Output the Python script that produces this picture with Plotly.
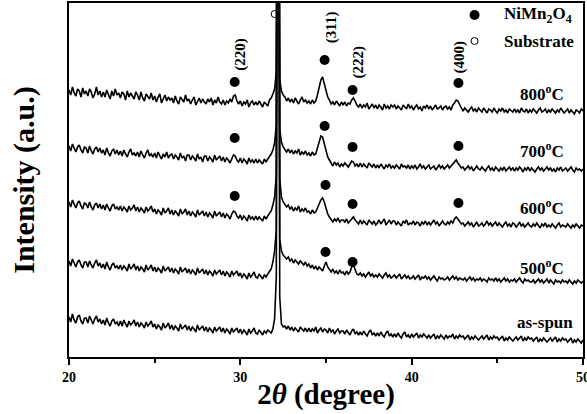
import plotly.graph_objects as go

# 2-theta sampling (degree)
two_theta = [
    20.0, 20.1, 20.2, 20.3, 20.4, 20.5, 20.6, 20.7, 20.8, 20.9,
    21.0, 21.1, 21.2, 21.3, 21.4, 21.5, 21.6, 21.7, 21.8, 21.9,
    22.0, 22.1, 22.2, 22.3, 22.4, 22.5, 22.6, 22.7, 22.8, 22.9,
    23.0, 23.1, 23.2, 23.3, 23.4, 23.5, 23.6, 23.7, 23.8, 23.9,
    24.0, 24.1, 24.2, 24.3, 24.4, 24.5, 24.6, 24.7, 24.8, 24.9,
    25.0, 25.1, 25.2, 25.3, 25.4, 25.5, 25.6, 25.7, 25.8, 25.9,
    26.0, 26.1, 26.2, 26.3, 26.4, 26.5, 26.6, 26.7, 26.8, 26.9,
    27.0, 27.1, 27.2, 27.3, 27.4, 27.5, 27.6, 27.7, 27.8, 27.9,
    28.0, 28.1, 28.2, 28.3, 28.4, 28.5, 28.6, 28.7, 28.8, 28.9,
    29.0, 29.1, 29.2, 29.3, 29.4, 29.5, 29.6, 29.7, 29.8, 29.9,
    30.0, 30.1, 30.2, 30.3, 30.4, 30.5, 30.6, 30.7, 30.8, 30.9,
    31.0, 31.1, 31.2, 31.3, 31.4, 31.5, 31.6, 31.7, 31.8, 31.9,
    32.0, 32.1, 32.2, 32.3, 32.4, 32.5, 32.6, 32.7, 32.8, 32.9,
    33.0, 33.1, 33.2, 33.3, 33.4, 33.5, 33.6, 33.7, 33.8, 33.9,
    34.0, 34.1, 34.2, 34.3, 34.4, 34.5, 34.6, 34.7, 34.8, 34.9,
    35.0, 35.1, 35.2, 35.3, 35.4, 35.5, 35.6, 35.7, 35.8, 35.9,
    36.0, 36.1, 36.2, 36.3, 36.4, 36.5, 36.6, 36.7, 36.8, 36.9,
    37.0, 37.1, 37.2, 37.3, 37.4, 37.5, 37.6, 37.7, 37.8, 37.9,
    38.0, 38.1, 38.2, 38.3, 38.4, 38.5, 38.6, 38.7, 38.8, 38.9,
    39.0, 39.1, 39.2, 39.3, 39.4, 39.5, 39.6, 39.7, 39.8, 39.9,
    40.0, 40.1, 40.2, 40.3, 40.4, 40.5, 40.6, 40.7, 40.8, 40.9,
    41.0, 41.1, 41.2, 41.3, 41.4, 41.5, 41.6, 41.7, 41.8, 41.9,
    42.0, 42.1, 42.2, 42.3, 42.4, 42.5, 42.6, 42.7, 42.8, 42.9,
    43.0, 43.1, 43.2, 43.3, 43.4, 43.5, 43.6, 43.7, 43.8, 43.9,
    44.0, 44.1, 44.2, 44.3, 44.4, 44.5, 44.6, 44.7, 44.8, 44.9,
    45.0, 45.1, 45.2, 45.3, 45.4, 45.5, 45.6, 45.7, 45.8, 45.9,
    46.0, 46.1, 46.2, 46.3, 46.4, 46.5, 46.6, 46.7, 46.8, 46.9,
    47.0, 47.1, 47.2, 47.3, 47.4, 47.5, 47.6, 47.7, 47.8, 47.9,
    48.0, 48.1, 48.2, 48.3, 48.4, 48.5, 48.6, 48.7, 48.8, 48.9,
    49.0, 49.1, 49.2, 49.3, 49.4, 49.5, 49.6, 49.7, 49.8, 49.9,
    50.0,
]

# Intensities (a.u., curves stacked with offsets as in the figure)
i_800 = [
    267, 262, 270, 264, 261, 268, 266, 260, 269, 263,
    266, 261, 268, 265, 259, 263, 270, 262, 266, 260,
    265, 260, 267, 263, 258, 266, 261, 268, 262, 264,
    259, 265, 263, 257, 266, 260, 264, 261, 258, 265,
    262, 257, 265, 259, 256, 263, 261, 258, 264, 257,
    261, 255, 260, 263, 254, 259, 262, 256, 260, 257,
    259, 254, 261, 256, 253, 260, 258, 255, 262, 256,
    258, 253, 257, 260, 252, 256, 259, 254, 258, 255,
    253, 258, 255, 259, 252, 257, 254, 260, 255, 253,
    257, 252, 256, 254, 258, 255, 261, 262, 256, 253,
    256, 251, 255, 253, 257, 250, 254, 256, 252, 255,
    252, 256, 253, 250, 255, 253, 251, 257, 259, 263,
    268, 285, 900, 278, 266, 262, 260, 256, 259, 255,
    258, 254, 259, 256, 253, 257, 260, 255, 257, 254,
    256, 253, 257, 254, 256, 262, 270, 277, 280, 274,
    266, 260, 257, 253, 255, 252, 256, 253, 251, 255,
    252, 255, 251, 254, 253, 257, 259, 256, 252, 250,
    253, 249, 252, 250, 254, 248, 251, 253, 249, 252,
    248, 252, 250, 247, 253, 249, 251, 248, 252, 250,
    252, 248, 251, 249, 247, 252, 250, 248, 253, 249,
    251, 247, 250, 252, 248, 250, 246, 251, 249, 252,
    248, 251, 247, 250, 252, 248, 249, 251, 247, 250,
    251, 248, 250, 247, 252, 254, 257, 256, 252, 249,
    246, 249, 247, 245, 248, 250, 246, 248, 245, 249,
    247, 245, 249, 246, 244, 248, 247, 245, 249, 246,
    244, 248, 246, 249, 245, 247, 244, 248, 246, 245,
    248, 245, 247, 244, 249, 246, 245, 248, 244, 247,
    245, 248, 246, 244, 247, 249, 245, 246, 248, 244,
    247, 245, 248, 246, 244, 247, 245, 249, 246, 244,
    246, 248, 244, 247, 245, 243, 247, 246, 244, 248,
    246,
]
i_700 = [
    211, 206, 213, 208, 205, 210, 212, 207, 204, 210,
    209, 204, 211, 206, 203, 208, 210, 205, 209, 204,
    207, 202, 209, 204, 201, 206, 208, 203, 207, 202,
    206, 201, 207, 203, 200, 205, 208, 202, 204, 201,
    205, 200, 206, 202, 199, 204, 207, 201, 203, 200,
    204, 199, 205, 201, 198, 203, 200, 205, 199, 202,
    203, 198, 202, 200, 197, 204, 199, 201, 196, 202,
    202, 197, 201, 199, 196, 203, 198, 200, 195, 201,
    201, 196, 200, 198, 195, 202, 197, 199, 201, 196,
    200, 195, 199, 197, 194, 198, 202, 201, 197, 195,
    199, 194, 198, 196, 193, 199, 195, 197, 194, 198,
    194, 197, 195, 193, 198, 195, 198, 200, 203, 207,
    214, 232, 900, 228, 215, 210, 208, 205, 208, 204,
    207, 203, 206, 204, 208, 202, 205, 203, 206, 202,
    204, 201, 205, 202, 203, 210, 216, 221, 220, 214,
    207, 200, 197, 194, 191, 195, 192, 194, 190, 193,
    191, 194, 192, 190, 193, 196, 195, 191, 193, 190,
    194, 190, 193, 191, 189, 194, 192, 190, 193, 189,
    192, 189, 193, 190, 188, 192, 190, 193, 189, 191,
    189, 192, 190, 188, 193, 190, 191, 189, 192, 188,
    191, 189, 192, 188, 190, 193, 189, 191, 188, 190,
    192, 188, 190, 191, 187, 190, 192, 189, 191, 188,
    190, 192, 189, 191, 193, 196, 197, 194, 191, 189,
    190, 187, 189, 191, 188, 190, 186, 189, 191, 188,
    187, 190, 188, 186, 189, 191, 187, 189, 186, 190,
    188, 186, 189, 187, 190, 186, 188, 190, 187, 189,
    186, 189, 187, 190, 188, 185, 189, 187, 190, 186,
    189, 187, 185, 188, 190, 187, 189, 186, 188, 190,
    187, 189, 186, 188, 185, 189, 187, 190, 186, 188,
    189, 186, 188, 190, 187, 185, 189, 187, 188, 186,
    188,
]
i_600 = [
    155, 150, 157, 152, 149, 154, 156, 151, 148, 154,
    153, 149, 155, 150, 147, 152, 154, 149, 153, 148,
    152, 147, 153, 149, 146, 151, 153, 148, 150, 147,
    151, 146, 150, 148, 145, 151, 147, 149, 152, 146,
    150, 145, 149, 147, 144, 150, 146, 148, 151, 145,
    148, 143, 147, 145, 142, 149, 144, 146, 149, 143,
    147, 142, 146, 144, 141, 148, 143, 145, 148, 142,
    146, 141, 145, 143, 140, 147, 142, 144, 146, 141,
    145, 140, 144, 142, 139, 146, 141, 143, 145, 140,
    144, 139, 143, 141, 138, 143, 146, 145, 141, 139,
    142, 137, 141, 139, 136, 142, 138, 140, 137, 141,
    137, 140, 138, 136, 141, 138, 141, 143, 146, 152,
    160, 182, 900, 178, 160, 155, 152, 150, 152, 148,
    150, 146, 149, 147, 151, 145, 148, 146, 149, 145,
    146, 143, 147, 144, 145, 149, 153, 157, 159, 155,
    149, 143, 140, 137, 135, 138, 136, 139, 135, 137,
    137, 135, 138, 134, 136, 139, 140, 137, 135, 133,
    137, 133, 136, 134, 132, 137, 135, 133, 136, 132,
    134, 137, 133, 135, 138, 132, 135, 137, 133, 136,
    136, 132, 135, 133, 131, 136, 134, 137, 132, 134,
    133, 136, 132, 135, 134, 131, 135, 133, 136, 132,
    135, 132, 134, 137, 133, 135, 131, 134, 136, 133,
    132, 135, 133, 136, 134, 138, 140, 138, 135, 133,
    134, 131, 133, 135, 132, 134, 130, 133, 135, 131,
    132, 134, 131, 133, 136, 132, 134, 131, 133, 135,
    131, 134, 132, 130, 133, 135, 131, 133, 130, 134,
    133, 130, 132, 135, 131, 133, 130, 132, 134, 131,
    130, 133, 131, 134, 132, 129, 133, 131, 134, 130,
    132, 130, 133, 131, 129, 132, 134, 130, 132, 131,
    130, 133, 131, 129, 132, 130, 133, 131, 129, 132,
    131,
]
i_500 = [
    96, 91, 98, 93, 90, 95, 97, 92, 89, 95,
    95, 90, 96, 92, 89, 94, 97, 91, 94, 89,
    93, 88, 95, 90, 87, 92, 94, 89, 91, 88,
    92, 87, 91, 89, 86, 93, 88, 90, 93, 87,
    91, 86, 90, 88, 85, 92, 87, 89, 92, 86,
    90, 85, 89, 87, 84, 91, 86, 88, 90, 85,
    89, 84, 88, 86, 83, 90, 85, 87, 89, 84,
    88, 83, 87, 85, 82, 89, 84, 86, 88, 83,
    87, 82, 86, 84, 81, 87, 83, 85, 87, 82,
    86, 81, 85, 83, 80, 86, 82, 84, 86, 81,
    84, 79, 83, 81, 78, 84, 80, 82, 85, 80,
    79, 83, 80, 78, 82, 80, 83, 85, 88, 95,
    106, 127, 900, 118, 106, 102, 100, 98, 100, 96,
    98, 94, 97, 95, 93, 96, 94, 92, 95, 91,
    93, 89, 92, 88, 91, 87, 90, 88, 86, 91,
    95, 90, 87, 85, 88, 84, 86, 83, 87, 84,
    85, 82, 86, 83, 85, 90, 92, 87, 83, 82,
    84, 81, 83, 80, 82, 85, 81, 83, 80, 82,
    80, 83, 81, 79, 82, 84, 80, 82, 79, 81,
    82, 79, 81, 83, 78, 80, 82, 79, 81, 78,
    79, 81, 78, 80, 82, 77, 80, 79, 81, 78,
    80, 77, 79, 81, 78, 76, 80, 78, 79, 77,
    78, 80, 77, 79, 81, 78, 80, 77, 79, 78,
    77, 79, 76, 78, 80, 77, 79, 76, 78, 77,
    79, 76, 78, 77, 75, 79, 77, 78, 76, 79,
    76, 78, 75, 77, 79, 76, 78, 75, 77, 76,
    78, 75, 77, 79, 76, 74, 78, 76, 77, 75,
    75, 77, 74, 76, 78, 75, 77, 74, 76, 78,
    74, 77, 75, 73, 77, 75, 76, 74, 77, 75,
    76, 74, 77, 75, 73, 76, 74, 77, 75, 74,
    76,
]
i_asspun = [
    40, 35, 43, 37, 34, 40, 42, 36, 33, 39,
    39, 34, 41, 36, 33, 38, 41, 35, 38, 33,
    37, 32, 39, 34, 31, 36, 38, 33, 35, 31,
    36, 31, 37, 33, 30, 36, 32, 34, 37, 31,
    35, 30, 34, 32, 29, 35, 31, 33, 36, 30,
    33, 28, 32, 30, 27, 34, 29, 31, 34, 28,
    32, 27, 31, 29, 26, 33, 28, 30, 32, 27,
    31, 26, 30, 28, 25, 32, 27, 29, 31, 26,
    30, 25, 29, 27, 24, 30, 26, 28, 30, 25,
    29, 24, 28, 26, 23, 29, 25, 27, 29, 24,
    28, 23, 27, 25, 22, 28, 24, 26, 29, 24,
    23, 27, 24, 22, 26, 24, 27, 25, 24, 28,
    38, 80, 900, 60, 33, 30, 31, 28, 31, 27,
    30, 26, 29, 27, 25, 30, 28, 26, 29, 25,
    29, 25, 28, 26, 30, 24, 27, 29, 25, 28,
    27, 24, 29, 25, 27, 23, 26, 28, 24, 26,
    26, 23, 27, 24, 22, 26, 28, 23, 25, 22,
    25, 22, 26, 23, 21, 25, 27, 22, 24, 21,
    24, 21, 25, 22, 20, 24, 26, 21, 23, 20,
    23, 20, 24, 21, 19, 23, 25, 20, 22, 19,
    23, 20, 22, 24, 19, 22, 20, 23, 21, 19,
    22, 19, 21, 23, 18, 21, 19, 22, 20, 18,
    22, 19, 21, 20, 23, 18, 21, 19, 22, 20,
    21, 18, 20, 22, 17, 20, 18, 21, 19, 17,
    19, 21, 18, 20, 22, 17, 20, 18, 21, 19,
    20, 17, 19, 21, 16, 19, 17, 20, 18, 16,
    18, 20, 17, 19, 21, 16, 19, 17, 20, 18,
    19, 16, 18, 20, 15, 18, 16, 19, 17, 15,
    17, 19, 16, 18, 20, 15, 18, 16, 19, 17,
    18, 15, 17, 19, 14, 17, 15, 18, 16, 14,
    17,
]

curve_names = ["800°C", "700°C", "600°C", "500°C", "as-spun"]
curve_labels = ["800<sup>o</sup>C", "700<sup>o</sup>C", "600<sup>o</sup>C", "500<sup>o</sup>C", "as-spun"]
curve_label_x = [47.63, 47.63, 47.63, 47.63, 47.81]
curve_label_y = [264, 207, 150, 90, 35]

# NiMn2O4 peak markers
spinel_x = [29.67, 34.92, 36.55, 42.73,
            29.67, 34.92, 36.55, 42.73,
            29.67, 34.97, 36.55, 42.73,
            34.97, 36.55]
spinel_y = [275, 297, 267, 274,
            219, 231, 210, 211,
            161, 172, 153, 154,
            105, 95]
# Substrate marker
substrate_x = [32.0]
substrate_y = [343]

# hkl labels
hkl_labels = ["(220)", "(311)", "(222)", "(400)"]
hkl_x = [29.97, 35.3, 36.84, 42.79]
hkl_y = [303, 330, 295, 300]

FONT = "Liberation Serif, Times New Roman, serif"

fig = go.Figure()
for ys, nm in zip([i_800, i_700, i_600, i_500, i_asspun], curve_names):
    fig.add_trace(go.Scatter(x=two_theta, y=ys, mode="lines", name=nm,
                             line=dict(color="black", width=1.6),
                             showlegend=False, hoverinfo="skip"))

fig.add_trace(go.Scatter(x=spinel_x, y=spinel_y, mode="markers", name="NiMn2O4",
                         marker=dict(symbol="circle", size=10, color="black"),
                         showlegend=False))
fig.add_trace(go.Scatter(x=substrate_x, y=substrate_y, mode="markers", name="Substrate",
                         marker=dict(symbol="circle-open", size=7, color="black",
                                     line=dict(width=1)),
                         showlegend=False))

# legend markers
fig.add_trace(go.Scatter(x=[43.67], y=[342], mode="markers", showlegend=False,
                         marker=dict(symbol="circle", size=10, color="black")))
fig.add_trace(go.Scatter(x=[43.67], y=[316], mode="markers", showlegend=False,
                         marker=dict(symbol="circle-open", size=7, color="black",
                                     line=dict(width=1))))

annotations = []
annotations.append(dict(x=45.3, y=342, xref="x", yref="y", xanchor="left", yanchor="middle",
                        text="NiMn<sub>2</sub>O<sub>4</sub>", showarrow=False,
                        font=dict(family=FONT, size=17, color="black", weight="bold")))
annotations.append(dict(x=45.3, y=316, xref="x", yref="y", xanchor="left", yanchor="middle",
                        text="Substrate", showarrow=False,
                        font=dict(family=FONT, size=17, color="black", weight="bold")))
for t, xx, yy in zip(curve_labels, curve_label_x, curve_label_y):
    annotations.append(dict(x=xx, y=yy, xref="x", yref="y", xanchor="center", yanchor="middle",
                            text=t, showarrow=False,
                            font=dict(family=FONT, size=17, color="black", weight="bold")))
for t, xx, yy in zip(hkl_labels, hkl_x, hkl_y):
    annotations.append(dict(x=xx, y=yy, xref="x", yref="y", xanchor="center", yanchor="middle",
                            text=t, showarrow=False, textangle=-90,
                            font=dict(family=FONT, size=15, color="black", weight="bold")))

fig.update_layout(
    width=587, height=414,
    margin=dict(l=69, r=4, t=3, b=57, autoexpand=False),
    paper_bgcolor="white", plot_bgcolor="white",
    annotations=annotations,
    showlegend=False,
)
fig.update_xaxes(
    range=[20, 50], tickvals=[20, 30, 40, 50], ticks="outside", ticklen=6, tickwidth=1.5,
    tickcolor="black", showline=True, mirror=True, linecolor="black", linewidth=1.5,
    showgrid=False, zeroline=False, ticklabeloverflow="allow", automargin=False,
    minor=dict(tickvals=[25, 35, 45], ticks="outside", ticklen=4, tickwidth=1.5, tickcolor="black"),
    tickfont=dict(family=FONT, size=14, color="black", weight="bold"),
    title=dict(text="2<i>θ</i> (degree)", standoff=0,
               font=dict(family=FONT, size=29, color="black", weight="bold")),
)
fig.update_yaxes(
    range=[0, 354], showticklabels=False, ticks="", showline=True, mirror=True,
    linecolor="black", linewidth=1.5, showgrid=False, zeroline=False, automargin=False,
    title=dict(text="Intensity (a.u.)", standoff=24,
               font=dict(family=FONT, size=30, color="black", weight="bold")),
)

fig.write_html("out.html")
